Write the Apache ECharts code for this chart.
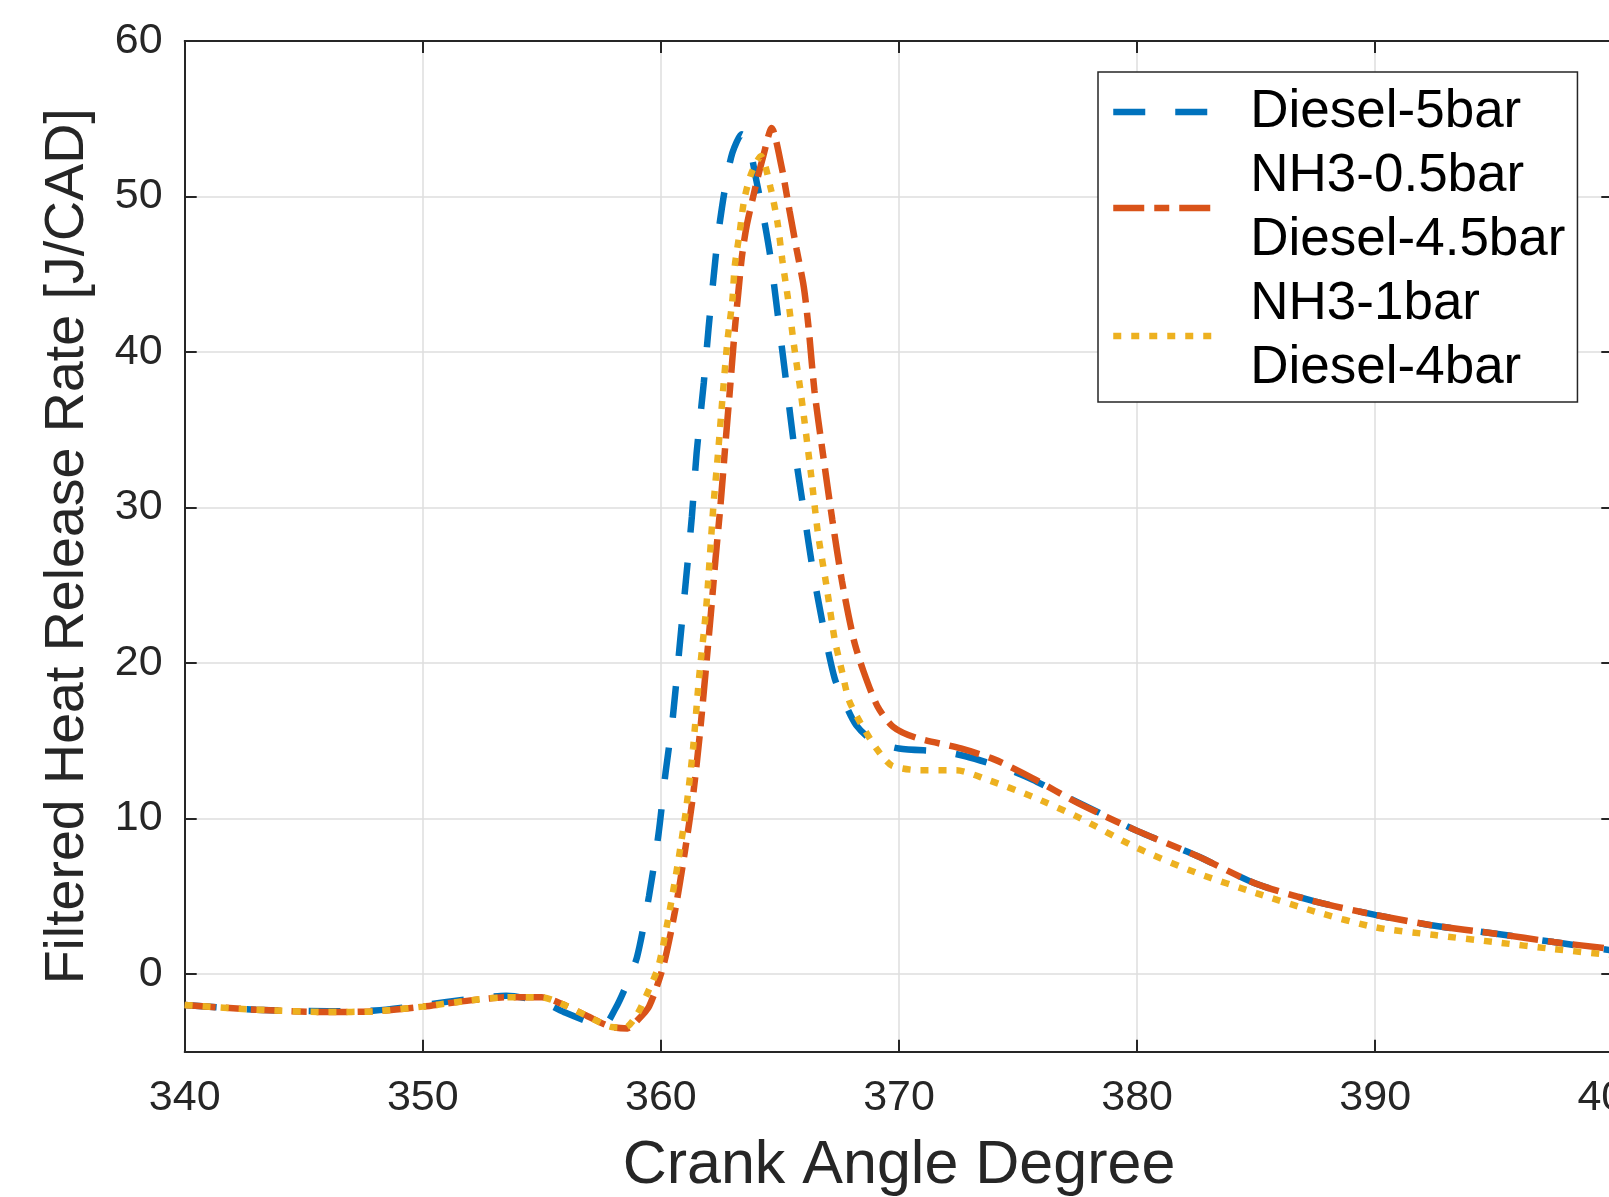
<!DOCTYPE html>
<html>
<head>
<meta charset="utf-8">
<script src="https://cdn.jsdelivr.net/npm/echarts@6/dist/echarts.min.js"></script>
<style>
html,body{margin:0;padding:0;background:#fff;}
#main{width:1609px;height:1197px;}
</style>
</head>
<body>
<div id="main"></div>
<script>
// ---- data ----
const seriesNames = ['Diesel-5bar', 'NH3-0.5bar\nDiesel-4.5bar', 'NH3-1bar\nDiesel-4bar'];
const xTicks = [340, 350, 360, 370, 380, 390, 400];
const yTicks = [0, 10, 20, 30, 40, 50, 60];

const xDiesel5 = [340,343,346,348,350,352,353.5,355,356,357,357.6,358.1,358.5,359,359.5,359.9,360.2,360.5,360.8,361.05,361.3,361.5,361.8,362.0,362.2,362.4,362.7,363.0,363.4,363.7,364.0,364.3,364.6,364.9,365.3,365.6,366.0,366.4,366.9,367.3,367.7,368.2,368.9,370.0,371.8,372.8,374.5,375.6,377.3,380,382.5,385,387.5,390,392.5,395,397.5,400];
const yDiesel5 = [-2.0,-2.3,-2.4,-2.35,-2.0,-1.6,-1.4,-1.8,-2.5,-3.1,-3.3,-2.2,-0.9,1.1,5.0,9.0,13.0,16.5,21.3,25.3,29.4,33.5,38.0,41.5,44.6,47.5,50.6,52.8,54.0,53.3,51.1,48.8,46.1,42.5,37.6,33.9,29.8,25.8,21.7,19.0,17.5,16.0,15.0,14.5,14.3,14.0,13.2,12.5,11.2,9.2,7.6,5.8,4.65,3.8,3.1,2.6,2.05,1.5];

const xNH3half = [340,343,346,348,350,352,353.5,355,355.8,356.9,357.9,358.6,359.0,359.5,360.1,360.6,361.0,361.36,361.64,361.9,362.1,362.3,362.5,362.7,362.9,363.1,363.25,363.4,363.6,364.0,364.3,364.65,365.07,365.4,365.7,366.0,366.2,366.45,366.8,367.2,367.6,368.1,368.5,369.1,369.75,370.7,372.6,374.0,375.6,377.5,380,382.5,385,387.5,390,392.5,395,397.5,400];
const yNH3half = [-2.0,-2.3,-2.45,-2.4,-2.1,-1.7,-1.5,-1.5,-1.9,-2.7,-3.4,-3.5,-3.0,-2.1,0.5,4.1,7.8,11.6,15.5,19.8,23.2,26.8,30.1,33.9,37.6,41.4,43.8,46.1,48.1,50.8,52.6,54.4,51.9,49.1,46.6,44.2,41.6,37.5,33.5,29.2,25.3,21.5,19.5,17.2,15.9,15.2,14.5,13.8,12.6,11.0,9.2,7.6,5.8,4.65,3.8,3.1,2.6,2.05,1.6];

const xNH3one = [340,343,346,348,350,352,353.5,355,355.8,356.9,357.9,358.5,359.0,359.5,359.9,360.3,360.7,361.05,361.35,361.6,361.9,362.2,362.4,362.6,362.8,363.0,363.1,363.3,363.5,363.8,364.2,364.6,364.9,365.1,365.35,365.6,365.9,366.3,366.6,366.96,367.3,367.6,367.9,368.4,369.1,369.7,370.9,372.4,373.7,375.6,377.5,380,382.5,385,387.5,390,392.5,395,397.5,400];
const yNH3one = [-2.0,-2.3,-2.45,-2.4,-2.1,-1.7,-1.5,-1.5,-1.9,-2.7,-3.4,-3.45,-2.6,-1.0,0.5,3.5,7.0,10.5,14.5,19.0,23.5,30.0,33.5,37.3,40.8,43.3,45.5,47.6,49.8,51.5,52.6,50.6,48.3,45.9,43.3,40.3,37.1,32.2,28.3,24.9,21.5,19.5,17.6,16.1,14.4,13.4,13.1,13.1,12.5,11.4,10.1,8.1,6.5,5.2,4.0,3.0,2.5,2.05,1.6,1.2];

function pairs(xs, ys) { return xs.map((x, i) => [x, ys[i]]); }

const FONT = '"Liberation Sans", Arial, Helvetica, sans-serif';
const AX = '#262626';
const LW = 6.5;

const chart = echarts.init(document.getElementById('main'), null, {renderer: 'canvas'});
const option = {
  backgroundColor: '#ffffff',
  animation: false,
  textStyle: {fontFamily: FONT},
  grid: {left: 184.7, top: 41, width: 1428.6, height: 1010.7, containLabel: false, outerBoundsMode: 'none'},
  legend: {
    orient: 'vertical',
    left: 1098, top: 72,
    itemWidth: 106, itemHeight: 20,
    itemGap: 0, itemTextGap: 10,
    padding: [8, 12, 2, 12],
    borderColor: AX, borderWidth: 1.5,
    backgroundColor: '#ffffff',
    itemStyle: {opacity: 0},
    lineStyle: {width: LW},
    textStyle: {fontSize: 53, lineHeight: 64, color: '#000', fontFamily: FONT, padding: [0, 0, 0, 26]},
    data: seriesNames
  },
  xAxis: [{
    type: 'value', min: 340, max: 400, interval: 10,
    name: 'Crank Angle Degree', nameLocation: 'middle', nameGap: 84,
    nameTextStyle: {fontSize: 61, color: AX, fontFamily: FONT},
    axisLine: {show: true, onZero: false, lineStyle: {color: AX, width: 2}},
    axisTick: {show: true, inside: true, length: 12, lineStyle: {color: AX, width: 2}},
    axisLabel: {fontSize: 43, color: AX, margin: 25, fontFamily: FONT, showMaxLabel: true},
    splitLine: {show: true, lineStyle: {color: '#dedede', width: 1.5}}
  }, {
    type: 'value', min: 340, max: 400, interval: 10, position: 'top',
    axisLine: {show: true, onZero: false, lineStyle: {color: AX, width: 2}},
    axisTick: {show: true, inside: true, length: 12, lineStyle: {color: AX, width: 2}},
    axisLabel: {show: false},
    splitLine: {show: false}
  }],
  yAxis: [{
    type: 'value', min: -5, max: 60,
    name: 'Filtered Heat Release Rate [J/CAD]', nameLocation: 'middle', nameGap: 89,
    nameTextStyle: {fontSize: 55.5, color: AX, fontFamily: FONT},
    axisLine: {show: true, onZero: false, lineStyle: {color: AX, width: 2}},
    axisTick: {show: true, inside: true, length: 12, customValues: yTicks, lineStyle: {color: AX, width: 2}},
    axisLabel: {fontSize: 43, color: AX, margin: 22, customValues: yTicks, fontFamily: FONT},
    splitLine: {show: true, lineStyle: {color: '#dedede', width: 1.5}}
  }, {
    type: 'value', min: -5, max: 60, position: 'right',
    axisLine: {show: true, onZero: false, lineStyle: {color: AX, width: 2}},
    axisTick: {show: true, inside: true, length: 12, customValues: yTicks, lineStyle: {color: AX, width: 2}},
    axisLabel: {show: false, customValues: yTicks},
    splitLine: {show: false}
  }],
  series: [{
    name: seriesNames[0], type: 'line', symbol: 'none', smooth: 0.25,
    data: pairs(xDiesel5, yDiesel5),
    lineStyle: {color: '#0072BD', width: LW, type: [32, 30]},
    itemStyle: {color: '#0072BD'}, z: 3
  }, {
    name: seriesNames[1], type: 'line', symbol: 'none', smooth: 0.25,
    data: pairs(xNH3half, yNH3half),
    lineStyle: {color: '#D95319', width: LW, type: [31, 10, 15, 10]},
    itemStyle: {color: '#D95319'}, z: 4
  }, {
    name: seriesNames[2], type: 'line', symbol: 'none', smooth: 0.25,
    data: pairs(xNH3one, yNH3one),
    lineStyle: {color: '#EDB120', width: LW, type: [8, 10]},
    itemStyle: {color: '#EDB120'}, z: 5
  }]
};
chart.setOption(option);
</script>
</body>
</html>
